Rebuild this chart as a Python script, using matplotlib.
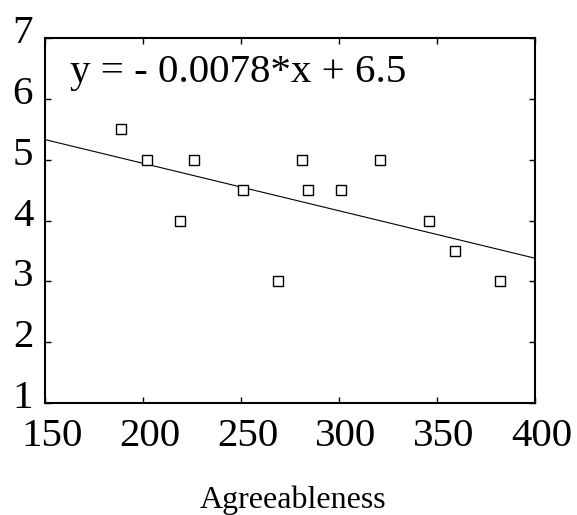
import numpy as np
import matplotlib
matplotlib.use("Agg")
import matplotlib.pyplot as plt
from matplotlib.transforms import ScaledTranslation

# scatter values
agreeableness = [189, 202, 219, 226, 251, 269, 281, 284, 301, 321, 346, 359, 382]
score = [5.5, 5.0, 4.0, 5.0, 4.5, 3.0, 5.0, 4.5, 4.5, 5.0, 4.0, 3.5, 3.0]

# fitted line y = slope*x + intercept
slope = -0.0078
intercept = 6.5
x_ticks = [150, 200, 250, 300, 350, 400]
y_ticks = [1, 2, 3, 4, 5, 6, 7]

plt.rcParams["font.family"] = ["Liberation Serif", "DejaVu Serif"]

W, H = 577, 515
fig = plt.figure(figsize=(W / 100, H / 100), dpi=100)
ax = fig.add_axes([45 / W, 1 - 403 / H, 490 / W, 365 / H])

xl = np.array([x_ticks[0], x_ticks[-1]])
ax.plot(xl, slope * xl + intercept, color="black", linewidth=0.8)
ax.plot(agreeableness, score, linestyle="none", marker="s", markersize=6.5,
        markerfacecolor="white", markeredgecolor="black", markeredgewidth=1.0)

ax.set_xlim(x_ticks[0], x_ticks[-1])
ax.set_ylim(y_ticks[0], y_ticks[-1])
ax.set_xticks(x_ticks)
ax.set_yticks(y_ticks)
ax.tick_params(direction="in", top=True, right=True, length=4, width=1.0,
               labelsize=29.5)
ax.tick_params(axis="x", pad=11)
ax.tick_params(axis="y", pad=8.5)
for s in ax.spines.values():
    s.set_linewidth(1.5)

# labels sit a bit off their ticks in the reference
dx = ScaledTranslation(7 / 100, 0, fig.dpi_scale_trans)
dy = ScaledTranslation(0, 9 / 100, fig.dpi_scale_trans)
for lab in ax.get_xticklabels():
    lab.set_transform(lab.get_transform() + dx)
for lab in ax.get_yticklabels():
    lab.set_transform(lab.get_transform() + dy)

ax.text(25 / 490, (403 - 82) / 365, "y = - 0.0078*x + 6.5", transform=ax.transAxes,
        fontsize=29.5, va="baseline", ha="left")
fig.text(293 / W, 1 - 508 / H, "Agreeableness", fontsize=23,
         ha="center", va="baseline")

fig.savefig("out.png", dpi=100)
